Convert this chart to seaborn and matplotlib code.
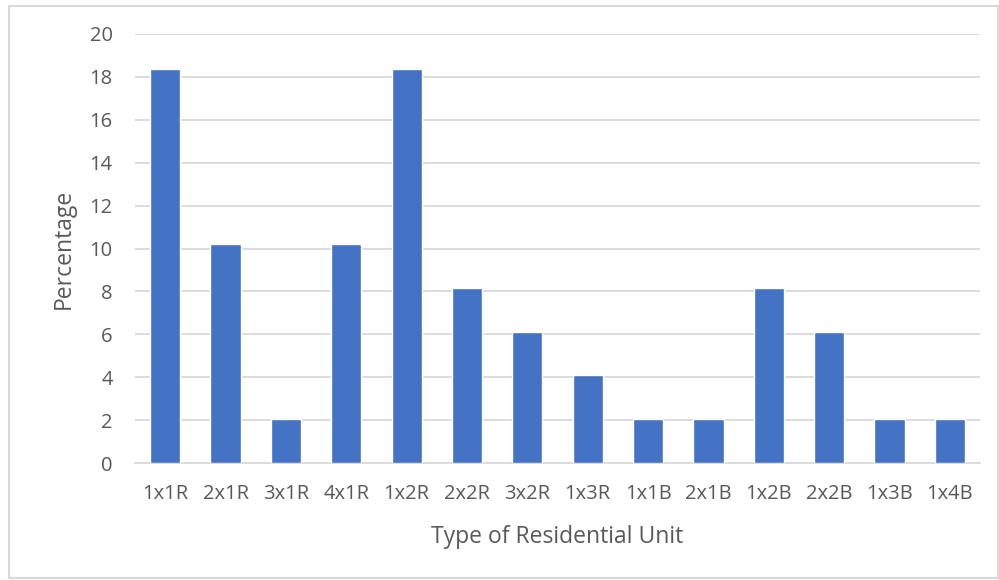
import matplotlib
matplotlib.use("Agg")
import matplotlib.pyplot as plt
import seaborn as sns
import pandas as pd
from matplotlib.patches import Rectangle

unit_types = ["1x1R", "2x1R", "3x1R", "4x1R", "1x2R", "2x2R", "3x2R",
              "1x3R", "1x1B", "2x1B", "1x2B", "2x2B", "1x3B", "1x4B"]
percentages = [18.37, 10.20, 2.04, 10.20, 18.37, 8.16, 6.12,
               4.08, 2.04, 2.04, 8.16, 6.12, 2.04, 2.04]
y_ticks = [0, 2, 4, 6, 8, 10, 12, 14, 16, 18, 20]

df = pd.DataFrame({"unit": unit_types, "pct": percentages})

sns.set_theme(style="white")
plt.rcParams["font.family"] = ["Open Sans", "DejaVu Sans"]

fig = plt.figure(figsize=(9.99, 5.8), dpi=100)
ax = fig.add_axes([0.1351, 0.2017, 0.846, 0.7397])

sns.barplot(data=df, x="unit", y="pct", color="#4472C4", width=0.5,
            saturation=1, ax=ax, zorder=3)

text_color = "#595959"
grid_color = "#D9D9D9"
ax.set_ylim(0, 20)
ax.set_yticks(y_ticks)
ax.set_xlim(-0.5, len(unit_types) - 0.5)
ax.yaxis.grid(True, color=grid_color, linewidth=1.3, zorder=0)
ax.set_axisbelow(True)
for s in ["top", "right", "left"]:
    ax.spines[s].set_visible(False)
ax.spines["bottom"].set_color(grid_color)
ax.spines["bottom"].set_linewidth(1.3)
ax.tick_params(axis="both", length=0, labelsize=14.5, colors=text_color)
ax.tick_params(axis="x", pad=15)
ax.tick_params(axis="y", pad=16)
ax.set_xlabel("Type of Residential Unit", fontsize=16.5, color=text_color, labelpad=15)
ax.set_ylabel("Percentage", fontsize=16.5, color=text_color, labelpad=10)

fig.patches.append(Rectangle((9 / 999, 2 / 580), 989 / 999, 572 / 580,
                             transform=fig.transFigure, fill=False,
                             edgecolor=grid_color, linewidth=1.5))

fig.savefig("out.png", dpi=100)
